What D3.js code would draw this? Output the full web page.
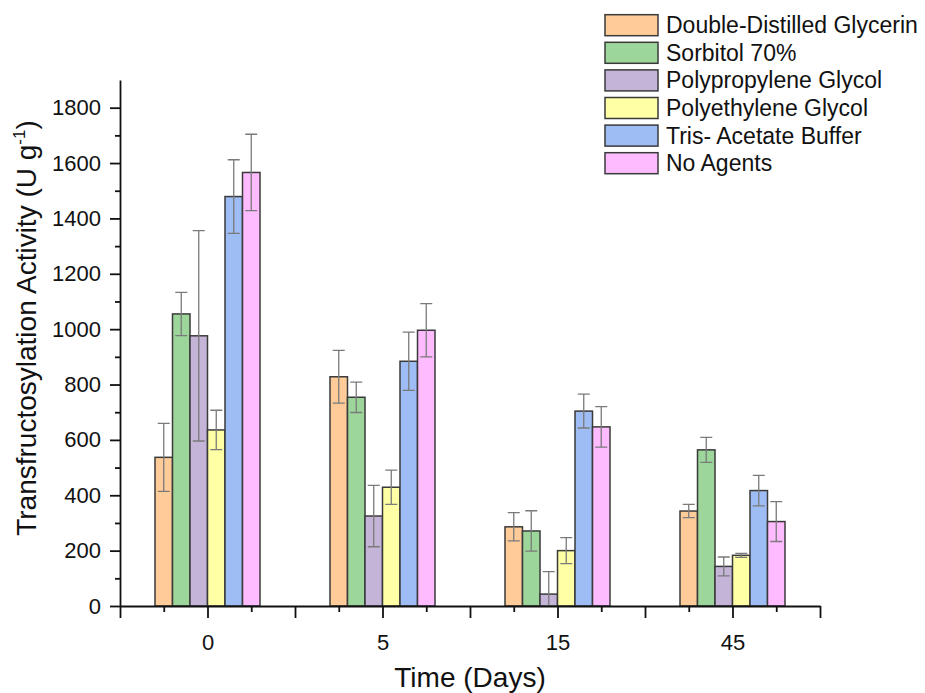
<!DOCTYPE html>
<html>
<head>
<meta charset="utf-8">
<script src="https://cdn.jsdelivr.net/npm/d3@7"></script>
<style>
  body { margin: 0; background: #fff; }
  text { font-family: "Liberation Sans", Arial, sans-serif; }
</style>
</head>
<body>
<div id="viscontainer"></div>
<script>
const days = ["0", "5", "15", "45"];
const seriesNames = ["Double-Distilled Glycerin", "Sorbitol 70%", "Polypropylene Glycol",
  "Polyethylene Glycol", "Tris- Acetate Buffer", "No Agents"];

const ddGlycerin = [537, 828, 286, 343];
const sorbitol = [1055, 754, 271, 564];
const ppGlycol = [976, 325, 43, 143];
const peGlycol = [636, 429, 200, 183];
const trisBuffer = [1479, 884, 704, 417];
const noAgents = [1566, 996, 647, 305];

const ddGlycerinErr = [123, 95, 51, 24];
const sorbitolErr = [78, 55, 73, 45];
const ppGlycolErr = [380, 111, 81, 34];
const peGlycolErr = [71, 62, 47, 7];
const trisBufferErr = [133, 105, 61, 55];
const noAgentsErr = [138, 96, 73, 72];

const yTicks = [0, 200, 400, 600, 800, 1000, 1200, 1400, 1600, 1800];

const colors = ["#FFCC99", "#9DD69B", "#C4B4D8", "#FFFFA6", "#9EBDF5", "#FFBBFF"];

const values = [ddGlycerin, sorbitol, ppGlycol, peGlycol, trisBuffer, noAgents];
const errors = [ddGlycerinErr, sorbitolErr, ppGlycolErr, peGlycolErr, trisBufferErr, noAgentsErr];

const width = 925;
const height = 693;

const svg = d3.select("#viscontainer")
  .append("svg")
  .attr("width", width)
  .attr("height", height);

// group index 1..4 on a linear scale, like Origin's category axis
const x = d3.scaleLinear().domain([0.5, 4.5]).range([120, 820]);
const y = d3.scaleLinear().domain([0, 1900]).range([606, 80]);
const barW = 0.1;

const bars = [];
values.forEach((vals, s) => {
  vals.forEach((v, g) => {
    bars.push({ s, g, v, e: errors[s][g] });
  });
});

function g1(d) { return d.g + 1; }
function cx(d) { return x(g1(d) + (d.s - 2.5) * barW); }

const barG = svg.append("g");

barG.selectAll("rect")
  .data(bars)
  .join("rect")
  .attr("x", d => x(g1(d) + (d.s - 3) * barW))
  .attr("width", d => x(g1(d) + (d.s - 2) * barW) - x(g1(d) + (d.s - 3) * barW))
  .attr("y", d => y(d.v))
  .attr("height", d => y(0) - y(d.v))
  .attr("fill", d => colors[d.s])
  .attr("stroke", "#3a3a3a")
  .attr("stroke-width", 1.5);

// error bars
const errG = svg.append("g")
  .attr("stroke", "#7a7a7a")
  .attr("stroke-width", 1.3)
  .attr("fill", "none");

errG.selectAll("path")
  .data(bars)
  .join("path")
  .attr("d", d => {
    const c = cx(d);
    const top = y(d.v + d.e);
    const bot = y(Math.max(0, d.v - d.e));
    const h = 6;
    return `M${c},${top}V${bot}M${c - h},${top}H${c + h}M${c - h},${bot}H${c + h}`;
  });

// y axis
svg.append("g")
  .attr("transform", "translate(120,0)")
  .call(d3.axisLeft(y).tickValues(yTicks).tickSize(10).tickSizeOuter(0).tickPadding(9)
    .tickFormat(d3.format("d")));

svg.append("g")
  .attr("transform", "translate(120,0)")
  .call(d3.axisLeft(y).tickValues(d3.range(100, 1900, 200)).tickSize(5).tickFormat(""))
  .select(".domain").remove();

// x axis
const majorX = d3.range(0.5, 4.51, 0.5);
svg.append("g")
  .attr("transform", "translate(0,606)")
  .call(d3.axisBottom(x).tickValues(majorX).tickSize(12).tickSizeOuter(0).tickPadding(16)
    .tickFormat(v => Number.isInteger(v) ? days[v - 1] : ""));

svg.append("g")
  .attr("transform", "translate(0,606)")
  .call(d3.axisBottom(x).tickValues(d3.range(0.75, 4.5, 0.5)).tickSize(6).tickFormat(""))
  .select(".domain").remove();

svg.selectAll(".domain, .tick line")
  .attr("stroke", "#111")
  .attr("stroke-width", 1.8);

svg.selectAll(".tick text")
  .attr("font-size", 22)
  .attr("fill", "#111");

// axis titles
svg.append("text")
  .attr("x", 470)
  .attr("y", 687)
  .attr("text-anchor", "middle")
  .attr("font-size", 28)
  .attr("fill", "#111")
  .text("Time (Days)");

const yTitle = svg.append("text")
  .attr("transform", "translate(36,328) rotate(-90)")
  .attr("text-anchor", "middle")
  .attr("font-size", 28)
  .attr("fill", "#111");
yTitle.append("tspan").text("Transfructosylation Activity (U g");
yTitle.append("tspan").attr("font-size", 17).attr("dy", -11).text("-1");
yTitle.append("tspan").attr("dy", 11).text(")");

// legend
const legend = svg.append("g");
const rows = legend.selectAll("g")
  .data(seriesNames)
  .join("g")
  .attr("transform", (d, i) => `translate(605,${14.7 + i * 27.6})`);

rows.append("rect")
  .attr("width", 53)
  .attr("height", 21)
  .attr("fill", (d, i) => colors[i])
  .attr("stroke", "#3a3a3a")
  .attr("stroke-width", 1.5);

rows.append("text")
  .attr("x", 61)
  .attr("y", 18.5)
  .attr("font-size", 23)
  .attr("fill", "#111")
  .text(d => d);
</script>
</body>
</html>
